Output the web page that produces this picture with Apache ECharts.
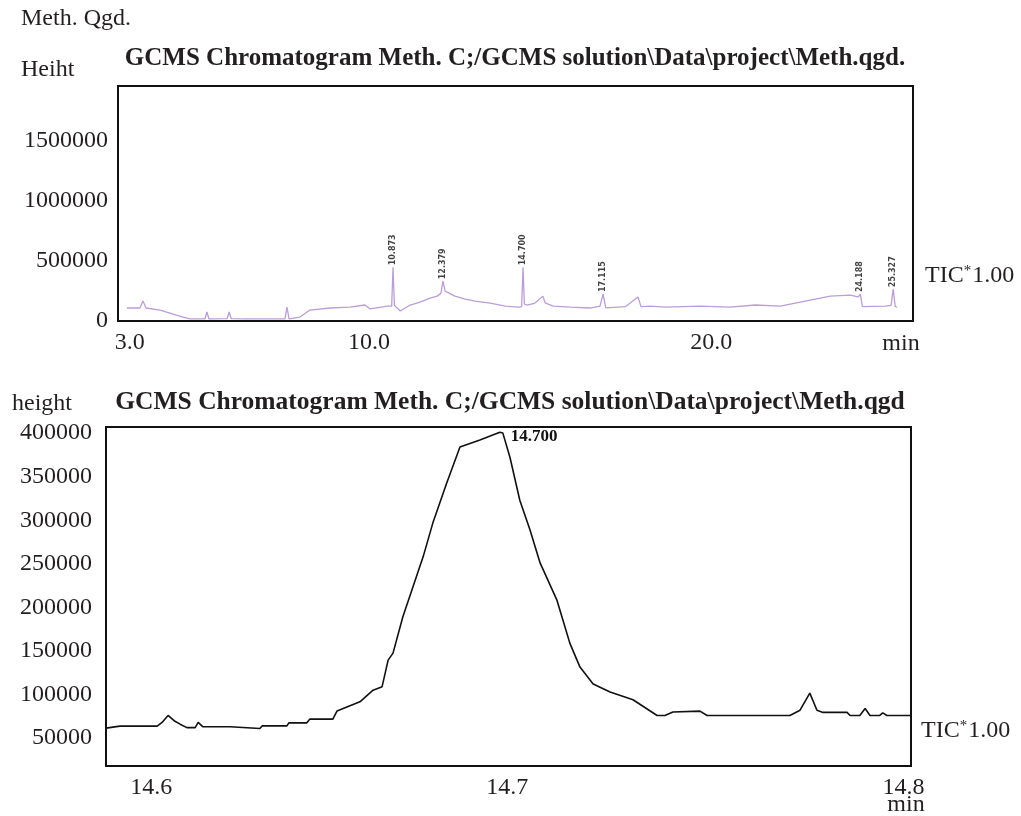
<!DOCTYPE html>
<html>
<head>
<meta charset="utf-8">
<title>GCMS Chromatogram Meth.qgd</title>
<script src="https://cdn.jsdelivr.net/npm/echarts@6/dist/echarts.min.js"></script>
<style>
  html, body { margin: 0; padding: 0; background: #fff; }
  #chart { width: 1021px; height: 816px; }
</style>
</head>
<body>
<div id="chart"></div>
<script>
// whole run, 3 - 26 min
const ticTime = [2.92, 3.30, 3.39, 3.48, 3.89, 4.56, 4.77, 5.20, 5.26, 5.32, 5.85, 5.91, 5.97, 6.37,
  7.54, 7.60, 7.66, 7.98, 8.27, 8.86, 9.44, 9.88, 10.03, 10.53, 10.66, 10.70, 10.74, 10.91,
  11.20, 11.49, 11.78, 11.99, 12.10, 12.16, 12.22, 12.28, 12.51, 12.81, 13.10, 13.54, 13.98,
  14.36, 14.46, 14.50, 14.54, 14.62, 14.85, 15.08, 15.15, 15.38, 15.88, 16.46, 16.75, 16.84,
  16.92, 16.96, 17.50, 17.86, 17.95, 18.22, 18.65, 19.68, 20.55, 21.29, 22.02, 23.48, 24.06,
  24.30, 24.36, 24.42, 24.47, 25.09, 25.26, 25.32, 25.38, 25.44];
const ticHeight = [108000, 108000, 166000, 108000, 91000, 33000, 17000, 17000, 75000, 17000, 19000, 75000, 19000, 17000,
  17000, 116000, 17000, 33000, 91000, 108000, 116000, 133000, 100000, 124000, 124000, 447000, 130000, 83000,
  133000, 157000, 190000, 207000, 230000, 331000, 250000, 240000, 207000, 182000, 166000, 149000, 124000,
  116000, 120000, 447000, 140000, 133000, 149000, 207000, 150000, 124000, 116000, 108000, 124000, 224000,
  110000, 100000, 120000, 200000, 120000, 124000, 116000, 124000, 116000, 133000, 124000, 207000, 215000,
  200000, 224000, 120000, 116000, 124000, 130000, 265000, 120000, 116000];
const peakTime = [10.70, 12.16, 14.50, 16.84, 24.36, 25.32];
const peakHeight = [447000, 331000, 447000, 224000, 224000, 265000];
const peakName = ['10.873', '12.379', '14.700', '17.115', '24.188', '25.327'];
const ticXTicks = [3, 10, 20];
const ticYTicks = [0, 500000, 1000000, 1500000];

// zoom on the 14.700 peak
const zoomTime = [14.5880, 14.5917, 14.6016, 14.6029, 14.6045, 14.6061, 14.6077, 14.6095, 14.6117, 14.6125,
  14.6138, 14.6210, 14.6215, 14.6289, 14.6295, 14.6361, 14.6366, 14.6414, 14.6422, 14.6483, 14.6494,
  14.6555, 14.6590, 14.6614, 14.6630, 14.6643, 14.6669, 14.6723, 14.6749, 14.6786, 14.6821, 14.6874,
  14.6927, 14.6935, 14.6954, 14.6980, 14.7007, 14.7034, 14.7079, 14.7095, 14.7113, 14.7140, 14.7175,
  14.7220, 14.7281, 14.7345, 14.7366, 14.7387, 14.7459, 14.7478, 14.7698, 14.7725, 14.7751, 14.7770,
  14.7786, 14.7850, 14.7858, 14.7884, 14.7898, 14.7911, 14.7937, 14.7945, 14.7956, 14.8020];
const zoomHeight = [61500, 63800, 63800, 68000, 76000, 70000, 66000, 62000, 62000, 68000,
  63000, 63000, 61000, 61000, 64000, 64000, 67500, 67500, 71800, 71800, 81000,
  91600, 105000, 109000, 139500, 147500, 189000, 258000, 297000, 343000, 384000, 392000,
  401000, 400000, 372000, 323000, 289000, 251000, 208000, 185000, 159000, 131500, 112000,
  103000, 94000, 76000, 76000, 80000, 81000, 76000, 76000, 82000, 101600, 82000,
  79500, 79500, 76000, 76000, 84000, 76000, 76000, 79000, 76000, 76000];
const zoomXTicks = [14.6, 14.7, 14.8];
const zoomYTicks = [50000, 100000, 150000, 200000, 250000, 300000, 350000, 400000];

const serif = '"Liberation Serif", "Times New Roman", serif';
const ink = '#231f20';

const chart = echarts.init(document.getElementById('chart'));

function txt(x, y, text, opts) {
  return {
    type: 'text', x: x, y: y,
    style: Object.assign({
      text: text, fill: ink, fontFamily: serif, fontSize: 24,
      align: 'left', verticalAlign: 'middle'
    }, opts || {})
  };
}
const ticRich = { sup: { fontSize: 15, fontFamily: serif, fill: ink, verticalAlign: 'top', padding: [0, 1, 10, 0] } };
const plain = function (v) { return String(v); };

chart.setOption({
  animation: false,
  backgroundColor: '#fff',
  grid: [
    { left: 118, top: 86, right: 108, bottom: 495, show: true, borderColor: '#111', borderWidth: 2 },
    { left: 106, top: 427, right: 110, bottom: 50, show: true, borderColor: '#111', borderWidth: 2 }
  ],
  xAxis: [
    {
      gridIndex: 0, type: 'value', min: 2.66, max: 25.9,
      axisLine: { show: false }, axisTick: { show: false }, splitLine: { show: false },
      axisLabel: {
        customValues: ticXTicks, margin: 10, color: ink, fontFamily: serif, fontSize: 24,
        formatter: function (v) { return v.toFixed(1); }
      }
    },
    {
      gridIndex: 1, type: 'value', min: 14.588, max: 14.802,
      axisLine: { show: false }, axisTick: { show: false }, splitLine: { show: false },
      axisLabel: {
        customValues: zoomXTicks, margin: 10, color: ink, fontFamily: serif, fontSize: 24,
        // the printed 14.7 sits a little left of its true place
        formatter: function (v) { return v === 14.7 ? '{l|14.7}' : v.toFixed(1); },
        rich: { l: { fontFamily: serif, fontSize: 24, color: ink, padding: [0, 40, 0, 0] } }
      }
    }
  ],
  yAxis: [
    {
      gridIndex: 0, type: 'value', min: 0, max: 1955000,
      axisLine: { show: false }, axisTick: { show: false }, splitLine: { show: false },
      axisLabel: { customValues: ticYTicks, margin: 10, color: ink, fontFamily: serif, fontSize: 24, formatter: plain }
    },
    {
      gridIndex: 1, type: 'value', min: 18000, max: 407000,
      axisLine: { show: false }, axisTick: { show: false }, splitLine: { show: false },
      axisLabel: { customValues: zoomYTicks, margin: 14, color: ink, fontFamily: serif, fontSize: 24, formatter: plain }
    }
  ],
  series: [
    {
      name: 'TIC', type: 'line', xAxisIndex: 0, yAxisIndex: 0,
      symbol: 'none', silent: true,
      lineStyle: { color: '#bb9ddb', width: 1.3 },
      data: ticTime.map(function (t, i) { return [t, ticHeight[i]]; })
    },
    {
      name: 'peaks', type: 'scatter', xAxisIndex: 0, yAxisIndex: 0,
      symbolSize: 0, silent: true,
      label: {
        show: true, position: 'top', distance: 2, rotate: 90,
        align: 'left', verticalAlign: 'middle',
        fontSize: 8, fontWeight: 'bold', fontFamily: 'DejaVu Sans', color: '#111',
        formatter: function (p) { return p.value[2]; }
      },
      data: peakTime.map(function (t, i) { return [t, peakHeight[i], peakName[i]]; })
    },
    {
      name: 'TIC 14.7', type: 'line', xAxisIndex: 1, yAxisIndex: 1,
      symbol: 'none', silent: true,
      lineStyle: { color: '#111', width: 1.6 },
      data: zoomTime.map(function (t, i) { return [t, zoomHeight[i]]; }),
      markPoint: {
        symbolSize: 0, silent: true,
        label: {
          show: true, position: 'right', offset: [6, 4],
          fontFamily: serif, fontWeight: 'bold', fontSize: 17, color: '#111',
          formatter: '14.700'
        },
        data: [{ coord: [14.6927, 401000] }]
      }
    }
  ],
  graphic: [
    txt(21, 19, 'Meth. Qgd.'),
    txt(21, 70, 'Heiht'),
    txt(515, 59, 'GCMS Chromatogram Meth. C;/GCMS solution\\Data\\project\\Meth.qgd.',
      { fontWeight: 'bold', fontSize: 25, align: 'center' }),
    txt(925, 276, 'TIC{sup|*}1.00', { rich: ticRich }),
    txt(901, 344, 'min', { align: 'center' }),
    txt(12, 404, 'height'),
    txt(510, 402, 'GCMS Chromatogram Meth. C;/GCMS solution\\Data\\project\\Meth.qgd',
      { fontWeight: 'bold', fontSize: 25.5, align: 'center' }),
    txt(921, 731, 'TIC{sup|*}1.00', { rich: ticRich }),
    txt(906, 805, 'min', { align: 'center' })
  ]
});

window.addEventListener('resize', function () {
  chart.resize();
});
</script>
</body>
</html>
